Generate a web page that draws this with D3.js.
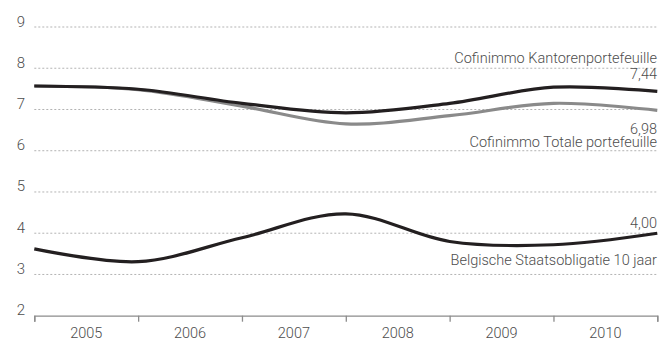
<!DOCTYPE html>
<html>
  <head>
    <meta charset="utf-8">
    <title>Cofinimmo rendement</title>
    <style>
      body { margin: 0; background: #fff; }
      text { font-family: Roboto, sans-serif; font-weight: 300; fill: #4d4d4d; }
    </style>
  </head>
  <body>
    <div id="graph"></div>
    <script src="https://cdn.jsdelivr.net/npm/d3@7"></script>
    <script>

    // year-end points, Dec 2004 .. Dec 2010
    var points = [2004, 2005, 2006, 2007, 2008, 2009, 2010];
    var years = ["2005", "2006", "2007", "2008", "2009", "2010"];
    var yTicks = [2, 3, 4, 5, 6, 7, 8, 9];

    var kantoren = [7.57, 7.49, 7.15, 6.92, 7.15, 7.54, 7.44];
    var totale = [7.57, 7.48, 7.08, 6.65, 6.85, 7.15, 6.98];
    var staats = [3.62, 3.31, 3.89, 4.47, 3.80, 3.72, 4.00];

    var width = 660;
    var height = 341;

    var xScale = d3.scaleLinear()
                  .domain([2004, 2010])
                  .range([34.3, 657.3]);

    var yScale = d3.scaleLinear()
                  .domain([2, 9])
                  .range([315.7, 27]);

    var svg = d3.select('#graph')
              .append('svg')
              .attr("width", width)
              .attr("height", height);

    // dashed gridlines
    svg.selectAll('.grid')
      .data(yTicks.slice(1))
      .enter()
      .append('line')
      .attr("class", "grid")
      .attr("x1", xScale(2004))
      .attr("x2", xScale(2010))
      .attr("y1", function(d) { return yScale(d); })
      .attr("y2", function(d) { return yScale(d); })
      .attr("stroke", "#b3b3b3")
      .attr("stroke-width", 1)
      .attr("stroke-dasharray", "2,2");

    // y labels sit on the gridline
    svg.selectAll('.ylab')
      .data(yTicks)
      .enter()
      .append('text')
      .attr("class", "ylab")
      .attr("x", 25)
      .attr("y", function(d) { return yScale(d) - 0.5; })
      .attr("text-anchor", "end")
      .style("font-size", "15px")
      .text(function(d) { return d; });

    // x axis
    var xAxis = d3.axisBottom(xScale)
                  .tickValues(points)
                  .tickSize(6)
                  .tickFormat("");

    var ax = svg.append('g')
      .attr("transform", "translate(0," + yScale(2) + ")")
      .call(xAxis);
    ax.select(".domain").attr("stroke", "#8c8c8c").attr("stroke-width", 1.3);
    ax.selectAll(".tick line").attr("stroke", "#8c8c8c").attr("stroke-width", 1.3);

    svg.selectAll('.year')
      .data(years)
      .enter()
      .append('text')
      .attr("class", "year")
      .attr("x", function(d) { return xScale(+d - 0.5); })
      .attr("y", 338)
      .attr("text-anchor", "middle")
      .style("font-size", "14.5px")
      .text(function(d) { return d; });

    var line = d3.line()
                 .x(function(d, i) { return xScale(points[i]); })
                 .y(function(d) { return yScale(d); })
                 .curve(d3.curveCatmullRom.alpha(0.5));

    svg.append('path')
      .datum(totale)
      .attr("d", line)
      .attr("fill", "none")
      .attr("stroke", "#8a8a8a")
      .attr("stroke-width", 3.2);

    svg.append('path')
      .datum(kantoren)
      .attr("d", line)
      .attr("fill", "none")
      .attr("stroke", "#231f20")
      .attr("stroke-width", 3.2);

    svg.append('path')
      .datum(staats)
      .attr("d", line)
      .attr("fill", "none")
      .attr("stroke", "#231f20")
      .attr("stroke-width", 3.2);

    // series labels, right aligned
    var labels = [
      ["Cofinimmo Kantorenportefeuille", 63],
      ["7,44", 79],
      ["6,98", 133.5],
      ["Cofinimmo Totale portefeuille", 147],
      ["4,00", 228],
      ["Belgische Staatsobligatie 10 jaar", 265]
    ];

    svg.selectAll('.lab')
      .data(labels)
      .enter()
      .append('text')
      .attr("class", "lab")
      .attr("x", 657)
      .attr("y", function(d) { return d[1]; })
      .attr("text-anchor", "end")
      .style("font-size", "14.5px")
      .text(function(d) { return d[0]; });

    </script>
  </body>
</html>
